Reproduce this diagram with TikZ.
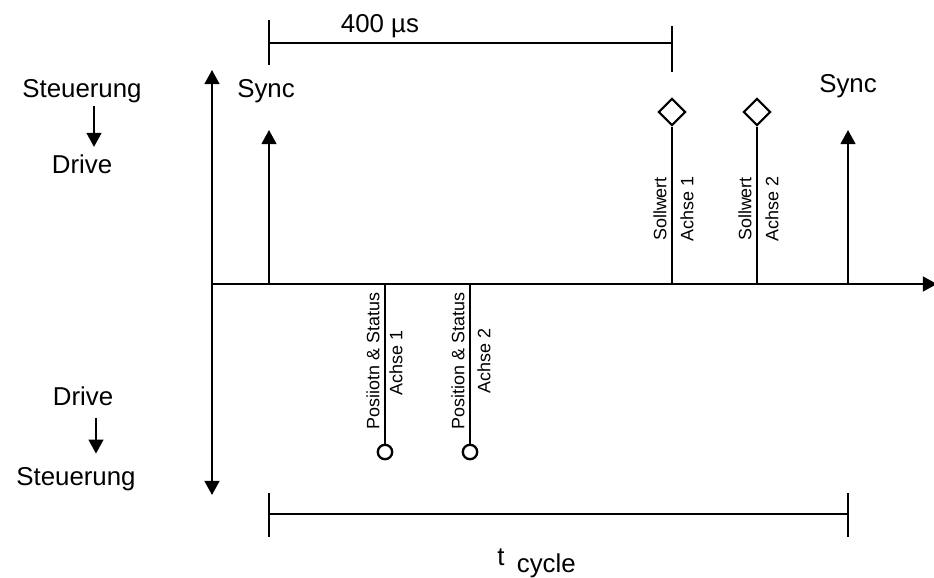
\documentclass[tikz,border=0pt]{standalone}
\usepackage{fontspec}
\setmainfont{Liberation Sans}
\usetikzlibrary{arrows.meta,calc,shapes.geometric}

\begin{document}
\begin{tikzpicture} [scale=1,
  >={Triangle[length=8pt,width=8.4pt]},
  linie/.style={line width=1.2pt},
  mass/.style={line width=1pt},
  gross/.style={font=\fontsize{14.7}{17}\selectfont, inner sep=2pt},
  klein/.style={font=\fontsize{10.2}{12}\selectfont, rotate=90, inner sep=0pt},
  raute/.style={diamond, draw, line width=1.2pt, fill=white, inner sep=0pt, minimum size=15.5pt},
  kreis/.style={circle, draw, line width=1.3pt, fill=white, inner sep=0pt, minimum size=8.2pt}]

\useasboundingbox (-4.24,5.68) rectangle (14.44,-5.86);

\coordinate (o) at (0,0);
\coordinate (yo) at (0,4.28);
\coordinate (yu) at (0,-4.22);
\coordinate (xr) at (14.5,0);

\coordinate (s1) at (1.14,0);
\coordinate (s1o) at (1.14,3.08);
\coordinate (s2) at (12.72,0);
\coordinate (s2o) at (12.72,3.08);

\coordinate (a1) at (9.20,0);
\coordinate (a2) at (10.90,0);
\coordinate (p1) at (3.46,0);
\coordinate (p2) at (5.16,0);

\coordinate (m1l) at (1.14,4.82);
\coordinate (m1r) at (9.20,4.82);
\coordinate (m2l) at (1.14,-4.60);
\coordinate (m2r) at (12.72,-4.60);

\draw[linie,<->] (yu) -- (yo);
\draw[linie,->] (o) -- (xr);

\draw[linie,->] (s1) -- (s1o);
\draw[linie,->] (s2) -- (s2o);
\node[gross, anchor=base] (sync1) at (1.08,3.74) {Sync};
\node[gross, anchor=base] (sync2) at (12.72,3.84) {Sync};

\node[raute] (d1) at (9.20,3.44) {};
\node[raute] (d2) at (10.90,3.44) {};
\draw[linie] (a1) -- (d1);
\draw[linie] (a2) -- (d2);
\node[klein, anchor=south] (sw1) at (9.10,1.50) {Sollwert};
\node[klein, anchor=north] (sa1) at (9.36,1.50) {Achse 1};
\node[klein, anchor=south] (sw2) at (10.80,1.50) {Sollwert};
\node[klein, anchor=north] (sa2) at (11.06,1.50) {Achse 2};

\node[kreis] (k1) at (3.46,-3.36) {};
\node[kreis] (k2) at (5.16,-3.36) {};
\draw[linie] (p1) -- (k1);
\draw[linie] (p2) -- (k2);
\node[klein, anchor=south] (ps1) at (3.36,-1.54) {Posiiotn \& Status};
\node[klein, anchor=north] (pa1) at (3.54,-1.58) {Achse 1};
\node[klein, anchor=south] (ps2) at (5.06,-1.54) {Position \& Status};
\node[klein, anchor=north] (pa2) at (5.30,-1.54) {Achse 2};

\draw[mass] (m1l) -- (m1r);
\draw[mass] ($(m1l)+(0,0.46)$) -- ($(m1l)+(0,-0.44)$);
\draw[mass] ($(m1r)+(0,0.34)$) -- ($(m1r)+(0,-0.58)$);
\node[gross, anchor=base] (t400) at (3.36,5.04) {400 µs};

\draw[mass] (m2l) -- (m2r);
\draw[mass] ($(m2l)+(0,0.42)$) -- ($(m2l)+(0,-0.46)$);
\draw[mass] ($(m2r)+(0,0.42)$) -- ($(m2r)+(0,-0.46)$);
\node[gross, anchor=base west, inner sep=0pt] (tcyc) at (5.70,-5.62) {t\hspace{7pt}\raisebox{-4pt}{cycle}};

\node[gross, anchor=base] (st1) at (-2.60,3.74) {Steuerung};
\node[gross, anchor=base] (dr1) at (-2.60,2.22) {Drive};
\draw[linie,->] ($(st1.south)+(0.24,0)$) -- ($(dr1.north)+(0.24,0.07)$);

\node[gross, anchor=base] (dr2) at (-2.58,-2.42) {Drive};
\node[gross, anchor=base] (st2) at (-2.72,-4.02) {Steuerung};
\draw[linie,->] ($(dr2.south)+(0.26,-0.17)$) -- ($(st2.north)+(0.40,0.19)$);

\end{tikzpicture}
\end{document}
